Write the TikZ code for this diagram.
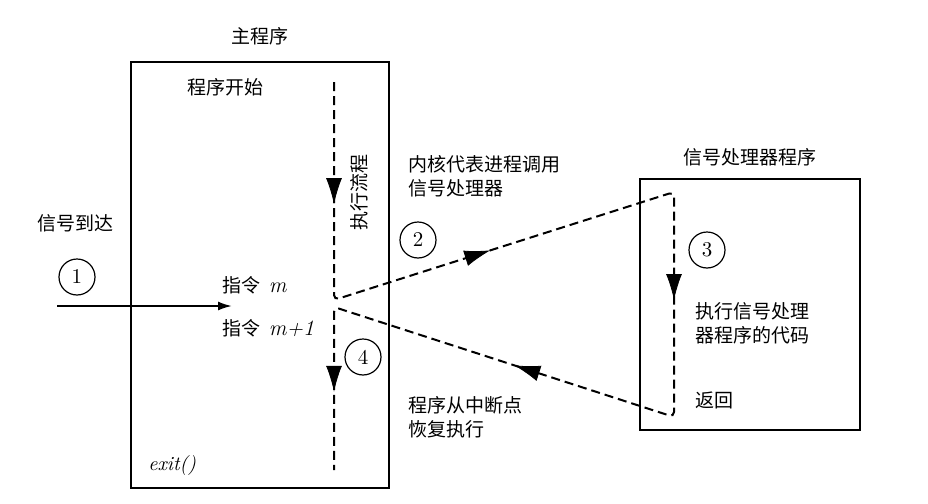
\documentclass[tikz,border=0pt]{standalone}
\usepackage{fontspec}
\newfontfamily\cjk{Noto Sans CJK SC}
\usetikzlibrary{positioning, arrows, arrows.meta, calc, decorations.markings}

\begin{document}
\begin{tikzpicture}[x=0.5pt, y=-0.5pt,
        box/.style={draw, rectangle, line width=1pt, inner sep=0pt},
        num/.style={draw, circle, line width=0.6pt, minimum size=18pt, inner sep=0pt, font=\fontsize{10.5}{12}\selectfont},
        lbl/.style={font=\cjk\fontsize{9.5}{12}\selectfont, align=left, text=black, inner sep=0pt},
        flow/.style={dash pattern=on 4.5pt off 2.5pt, line width=1pt, rounded corners=2.5pt},
        mid/.style={decoration={markings, mark=at position #1 with {\arrow{Latex[length=13pt, width=8pt]}}}, postaction={decorate}},
        >={Latex[length=7pt, width=4.5pt]}]

        \useasboundingbox (0,0) rectangle (928,504);

        % Kästen
        \node (main) [box, minimum width=129pt, minimum height=213pt] at (260,275) {};
        \node (handler) [box, minimum width=110pt, minimum height=125.5pt] at (750,304.5) {};
        \node (mainT) [lbl, above=8pt of main] {主程序};
        \node (handlerT) [lbl, above=6pt of handler] {信号处理器程序};

        % Texte
        \node (start) [lbl, anchor=west] at (187,87) {程序开始};
        \node (arrive) [lbl, anchor=west] at (37,223) {信号到达};
        \node (instrA) [lbl, anchor=west] at (222,285) {指令\ \ {\rmfamily\itshape\fontsize{11}{12}\selectfont m}};
        \node (instrB) [lbl, anchor=west] at (222,328) {指令\ \ {\rmfamily\itshape\fontsize{11}{12}\selectfont m+1}};
        \node (exit) [anchor=west, inner sep=0pt, font=\fontsize{10}{12}\selectfont\itshape] at (148,465) {exit()};
        \node (flowT) [lbl, rotate=90] at (359,192) {执行流程};
        \node (call) [lbl, anchor=west] at (408,176) {内核代表进程调用\\信号处理器};
        \node (resume) [lbl, anchor=west] at (408,417) {程序从中断点\\恢复执行};
        \node (exec) [lbl, anchor=west] at (695,323) {执行信号处理\\器程序的代码};
        \node (ret) [lbl, anchor=west] at (695,400) {返回};

        % Nummern
        \node (n1) [num] at (77,277) {1};
        \node (n2) [num] at (418,240) {2};
        \node (n3) [num] at (707,250) {3};
        \node (n4) [num] at (363,357) {4};

        % Signal
        \coordinate (in) at (57,306);
        \coordinate (hit) at (232,306);
        \draw[->, line width=1pt] (in) -- (hit);

        % Ablauf
        \coordinate (fTop) at (334,82);
        \coordinate (bendA) at (334,300);
        \coordinate (hTop) at (674,192);
        \coordinate (hBot) at (674,417);
        \coordinate (bendB) at (334,307);
        \coordinate (fBot) at (334,470);
        \draw[flow] (fTop) -- (bendA) -- (hTop) -- (hBot) -- (bendB) -- (fBot);
        \draw[draw=none, mid=0.56] (fTop) -- (bendA);
        \draw[draw=none, mid=0.46] (bendA) -- (hTop);
        \draw[draw=none, mid=0.48] (hTop) -- (hBot);
        \draw[draw=none, mid=0.47] (hBot) -- (bendB);
        \draw[draw=none, mid=0.52] (bendB) -- (fBot);

\end{tikzpicture}
\end{document}
